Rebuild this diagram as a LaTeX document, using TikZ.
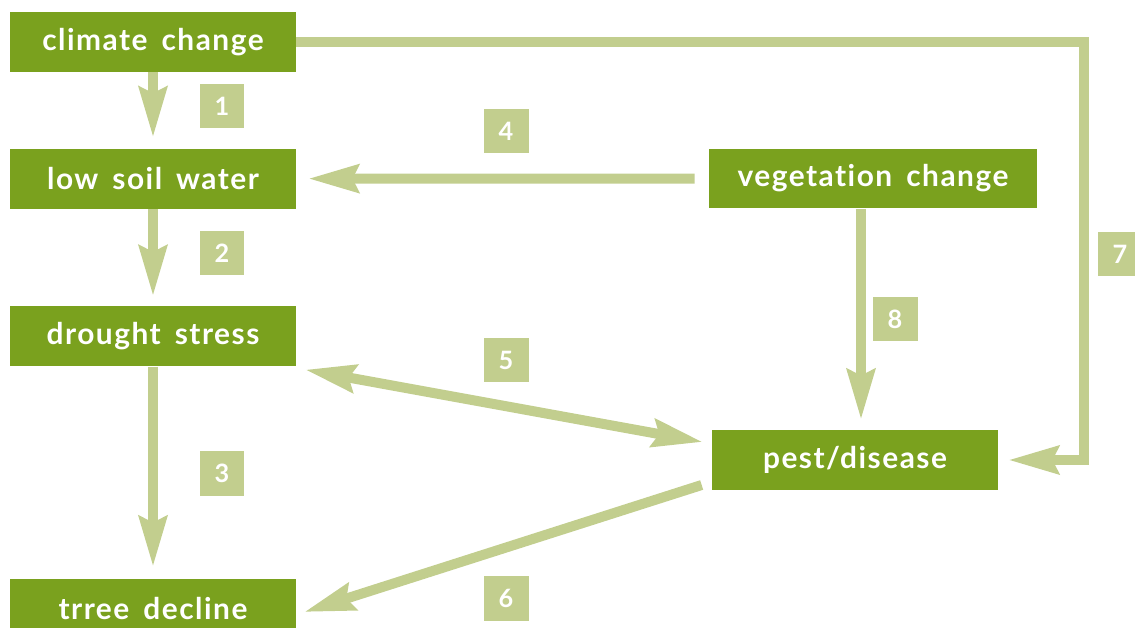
\documentclass[tikz,border=0pt]{standalone}
\usepackage{fontspec}
\setmainfont{Lato}
\newfontfamily\boxfont{Lato}[LetterSpace=5, WordSpace=1.6, Ligatures={NoCommon,NoDiscretionary}]
\usetikzlibrary{positioning,arrows.meta}

\definecolor{leaf}{RGB}{122,161,30}
\definecolor{sage}{RGB}{194,206,142}

\begin{document}
\begin{tikzpicture}[
        x=0.02cm, y=-0.02cm,
        factor/.style={
                rectangle,
                fill=leaf,
                text=white,
                font=\boxfont\fontsize{17}{20}\selectfont\bfseries,
                minimum width=5.72cm,
                minimum height=1.2cm,
                inner sep=0pt
            },
        tag/.style = {fill=sage, text=white, font=\bfseries\Large, minimum size=0.9cm, inner sep=0pt},
        link/.style = {draw=sage, line width=0.2cm, line join=miter},
        >={Stealth[length=1cm,width=0.55cm,inset=0.12cm]}
    ]
    \useasboundingbox (0,0) rectangle (1135,628);

    \node[factor] (climate) at (153,42) {climate change};
    \node[factor] (soil) [below=1.52cm of climate] {low soil water};
    \node[factor] (drought) [below=1.94cm of soil] {drought stress};
    \node[factor] (decline) [below=4.24cm of drought] {trree decline};
    \node[factor, minimum width=6.56cm] (vegetation) at (873,178.5) {vegetation change};
    \node[factor] (pest) at (855,460) {pest/disease};

    \node[tag] (t1) at (222,106) {1};
    \node[tag] (t2) at (222,253) {2};
    \node[tag] (t3) at (222,473) {3};
    \node[tag] (t4) at (506,131) {4};
    \node[tag] (t5) at (506,360) {5};
    \node[tag] (t6) at (506,598) {6};
    \node[tag] (t7) at (1120,254) {7};
    \node[tag] (t8) at (895,319) {8};

    \coordinate (bend) at (1084,42);

    \draw[link,->,shorten >=0.22cm] (climate) -- (soil);
    \draw[link,->,shorten >=0.2cm] (soil) -- (drought);
    \draw[link,->,shorten >=0.24cm] (drought) -- (decline);
    \draw[link,->,shorten <=0.28cm,shorten >=0.24cm] (vegetation) -- (soil);
    \draw[link,<->] ([shift={(9,3)}]drought.south east) -- ([shift={(-9,-18)}]pest.west);
    \draw[link,->] ([shift={(-10,25)}]pest.west) -- ([shift={(8,3)}]decline.east);
    \draw[link,->,shorten >=0.2cm] (climate.east) -- (bend) |- (pest.east);
    \draw[link,->,shorten >=0.2cm] ([shift={(-12,0)}]vegetation.south) -- ([shift={(-12,0)}]vegetation.south |- pest.north);
\end{tikzpicture}
\end{document}
